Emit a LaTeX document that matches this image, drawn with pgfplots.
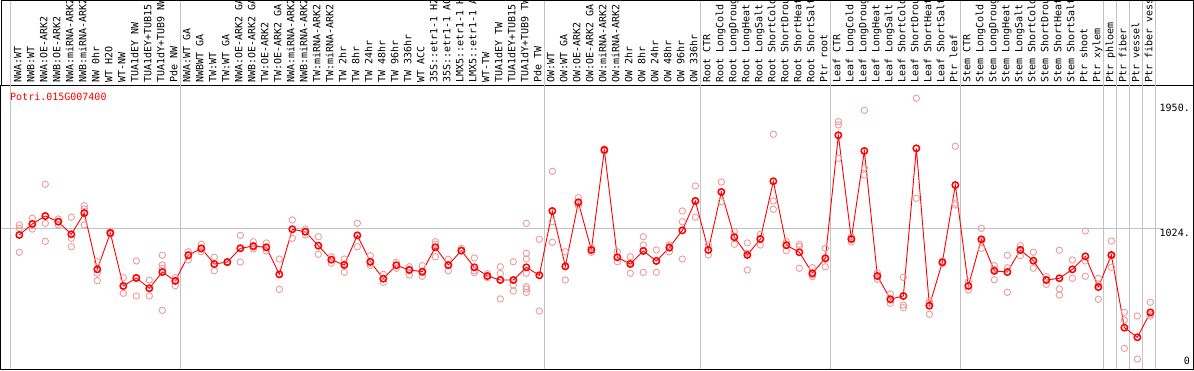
\documentclass[border=0pt]{standalone}
\usepackage{pgfplots}
\pgfplotsset{compat=1.18}
\usepackage{pgfplotstable}
\usepackage{fontspec}
\newfontfamily\mono{DejaVu Sans Mono}
\definecolor{rep}{RGB}{238,155,155}
\definecolor{gridc}{RGB}{195,195,195}

\pgfplotstableread{
x y
1 975
2 1056
3 1115
4 1073
5 980
6 1137
7 721
8 990
9 598
10 657
11 581
12 701
13 635
14 825
15 876
16 760
17 775
18 876
19 893
20 884
21 684
22 1017
23 999
24 896
25 792
26 753
27 972
28 777
29 652
30 751
31 716
32 704
33 884
34 753
35 859
36 736
37 672
38 642
39 642
40 736
41 677
42 1152
43 743
44 1216
45 864
46 1603
47 810
48 760
49 857
50 783
51 881
52 1009
53 1226
54 864
55 1293
56 958
57 827
58 945
59 1372
60 899
61 847
62 692
63 803
64 1712
65 945
66 1596
67 672
68 500
69 524
70 1615
71 452
72 773
73 1344
74 598
75 943
76 709
77 701
78 864
79 785
80 642
81 655
82 721
83 817
84 590
85 827
86 290
87 219
88 403
}\means

\pgfplotstableread{
x y
1 1049
1 1024
1 847
2 1098
2 1019
2 1056
3 1349
3 1061
3 928
4 1093
4 1049
4 1073
5 1106
5 950
5 888
6 1191
6 1167
6 1049
7 777
7 692
7 637
8 1000
8 980
8 990
9 659
9 544
9 598
10 783
10 524
10 660
11 642
11 524
11 581
12 825
12 753
12 729
12 418
13 659
13 600
13 640
14 851
14 790
14 830
15 906
15 851
15 870
16 810
16 711
16 760
17 775
17 770
18 972
18 775
18 880
19 925
19 871
19 885
20 916
20 857
20 880
21 797
21 573
21 684
22 1086
22 950
22 1017
23 1019
23 975
23 1000
24 962
24 832
24 896
25 814
25 766
25 795
26 797
26 699
26 760
27 1061
27 888
27 972
28 822
28 766
28 750
29 684
29 625
29 650
30 773
30 729
30 751
31 740
31 679
31 720
32 748
32 670
32 695
33 925
33 814
33 905
34 795
34 711
34 753
35 876
35 859
36 805
36 696
36 710
37 689
37 672
37 660
38 740
38 689
38 642
38 502
39 777
39 605
39 561
39 642
40 1061
40 839
40 797
40 692
40 593
40 576
40 551
41 943
41 413
41 677
42 1445
42 1073
42 921
43 851
43 642
43 743
44 1250
44 1191
44 1216
45 847
45 864
45 880
46 1610
46 1596
47 851
47 777
47 810
48 814
48 692
48 770
49 962
49 901
49 699
50 864
50 699
50 783
51 901
51 851
51 890
52 1152
52 1073
52 797
53 1337
53 1106
53 1230
54 901
54 827
54 864
55 1366
55 1221
55 1293
56 999
56 906
56 965
57 916
57 716
57 840
58 980
58 901
58 950
59 1719
59 1226
59 1165
60 925
60 859
60 905
61 906
61 729
61 890
62 733
62 667
62 680
63 876
63 740
63 795
64 1812
64 1788
64 1542
65 925
65 945
65 960
66 1896
66 1472
66 1418
67 696
67 647
67 672
68 539
68 470
68 495
69 662
69 457
69 438
70 1985
70 1246
70 1615
71 487
71 389
71 470
72 783
72 773
72 765
73 1630
73 1196
73 1210
74 630
74 568
74 598
75 1024
75 876
75 930
76 748
76 644
76 720
77 825
77 733
77 551
78 896
78 822
78 870
79 847
79 729
79 785
80 667
80 610
80 645
81 862
81 576
81 531
82 790
82 655
82 720
83 1004
83 783
83 670
84 655
84 500
84 610
85 930
85 736
85 815
86 403
86 347
86 137
87 376
87 58
88 477
88 376
88 390
}\reps

\begin{document}
\begin{tikzpicture}
\begin{axis}[name=ax, scale only axis, width=1192pt, height=284.3pt,
  xmin=-0.408, xmax=91.28, ymin=-17.7, ymax=2083,
  clip=false,
  axis line style={black, line width=1pt},
  xtick={1,...,88},
  xticklabels={NWA:WT,NWB:WT,NWA:OE-ARK2,NWB:OE-ARK2,NWA:miRNA-ARK2,NWB:miRNA-ARK2,NW 0hr,WT H2O,WT-NW,TUA1dEY NW,TUA1dEY+TUB15,TUA1dY+TUB9 NW,Pde NW,
    NWA:WT GA,NWBWT GA,TW:WT,TW:WT GA,NWA:OE-ARK2 GA,NWB:OE-ARK2 GA,TW:OE-ARK2,TW:OE-ARK2 GA,NWA:miRNA-ARK2,NWB:miRNA-ARK2,TW:miRNA-ARK2,TW:miRNA-ARK2,TW 2hr,TW 8hr,TW 24hr,TW 48hr,TW 96hr,TW 336hr,WT ACC,35S::etr1-1 H2,35S::etr1-1 AC,LMX5::etr1-1 H,LMX5::etr1-1 A,WT-TW,TUA1dEY TW,TUA1dEY+TUB15,TUA1dY+TUB9 TW,Pde TW,
    OW:WT,OW:WT GA,OW:OE-ARK2,OW:OE-ARK2 GA,OW:miRNA-ARK2,OW:miRNA-ARK2,OW 2hr,OW 8hr,OW 24hr,OW 48hr,OW 96hr,OW 336hr,
    Root CTR,Root LongCold,Root LongDroug,Root LongHeat,Root LongSalt,Root ShortCold,Root ShortDrou,Root ShortHeat,Root ShortSalt,Ptr root,
    Leaf CTR,Leaf LongCold,Leaf LongDroug,Leaf LongHeat,Leaf LongSalt,Leaf ShortCold,Leaf ShortDrou,Leaf ShortHeat,Leaf ShortSalt,Ptr leaf,
    Stem CTR,Stem LongCold,Stem LongDroug,Stem LongHeat,Stem LongSalt,Stem ShortCold,Stem ShortDrou,Stem ShortHeat,Stem ShortSalt,Ptr shoot,Ptr xylem,
    Ptr phloem,Ptr fiber,Ptr vessel,Ptr fiber vess},
  xticklabel pos=upper,
  major tick length=0pt,
  xticklabel style={xshift=2pt, yshift=2pt, rotate=90, anchor=base west, inner sep=0pt, font=\mono\fontsize{10}{10}\selectfont},
  ytick={1024,1950}, yticklabels={1024.,1950.},
  yticklabel pos=right,
  yticklabel style={anchor=north east, xshift=-3pt, yshift=-1pt, inner sep=0pt, font=\mono\fontsize{10}{10}\selectfont},
  extra y ticks={0}, extra y tick labels={0},
  extra y tick style={yticklabel style={anchor=south east, yshift=3pt}},
  title={Potri.015G007400},
  title style={at={(0,1)}, anchor=north west, xshift=9pt, yshift=-14pt, inner sep=0pt, font=\mono\fontsize{10}{10}\selectfont, text=red},
]
\pgfplotsinvokeforeach{0.34,13.4,41.4,53.4,63.4,73.4,84.4,85.4,86.4,87.4,88.4}{
  \draw[gridc, line width=1pt] (axis cs:#1,-17.7) -- ([yshift=85pt]axis cs:#1,2083);
}
\draw[gridc, line width=1pt] (axis cs:-0.408,1024) -- (axis cs:88.9,1024);
\addplot[only marks, mark=o, mark size=3.2pt, rep, mark options={line width=0.9pt}] table {\reps};
\addplot[red, line width=0.9pt, mark=o, mark size=3.2pt, mark options={line width=1.5pt}] table {\means};
\end{axis}
\draw[black, line width=0.8pt] (ax.north west) -- ([yshift=85pt]ax.north west) -- ([yshift=85pt]ax.north east) -- (ax.north east);
\pgfresetboundingbox
\path[use as bounding box] ([xshift=-1pt,yshift=-0.7pt]ax.south west) rectangle ([xshift=1pt,yshift=85pt]ax.north east);
\end{tikzpicture}
\end{document}
